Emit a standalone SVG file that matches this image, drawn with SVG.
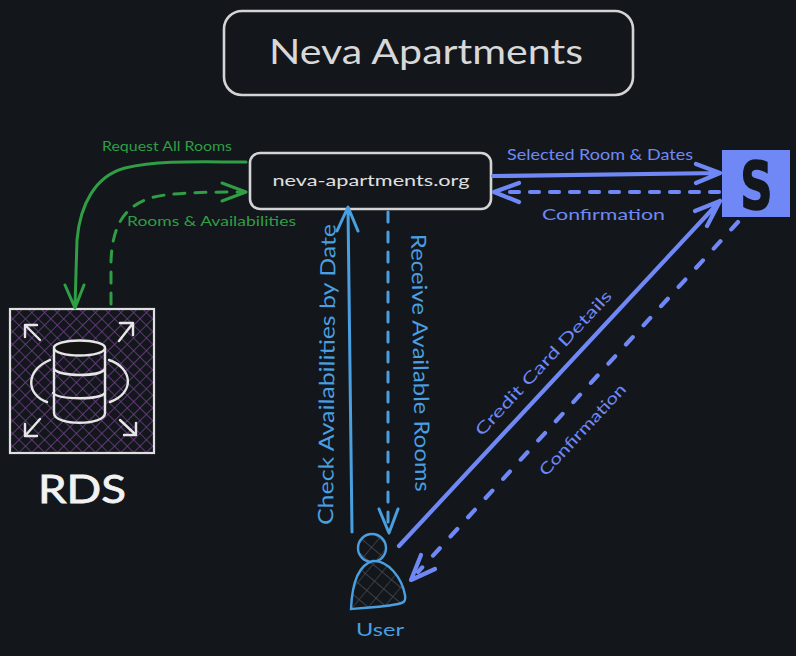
<svg xmlns="http://www.w3.org/2000/svg" width="796" height="656" viewBox="0 0 796 656">
<style>
text{font-family:"Lato","Noto Sans","Liberation Sans",sans-serif}
.c{fill:none;stroke-linecap:round;stroke-linejoin:round}
.g{stroke:#2f9e44;stroke-width:3}
.gt{fill:#2f9e44;font-size:14px}
.b{stroke:#4a9fe0;stroke-width:3}
.bt{fill:#4a9fe0;font-size:21px}
.v{stroke:#7088f5;stroke-width:4.2}
.vt{fill:#7088f5;font-size:16px}
.w{fill:none;stroke:#e6e6e6;stroke-width:2.4;stroke-linecap:round;stroke-linejoin:round}
</style>
<defs>
<pattern id="hp" width="9" height="9" patternUnits="userSpaceOnUse" patternTransform="rotate(45)">
<path d="M0 0H9M0 0V9" stroke="#6f3f88" stroke-width="1.6" fill="none"/>
</pattern>
<pattern id="hu" width="12" height="12" patternUnits="userSpaceOnUse" patternTransform="rotate(40)">
<path d="M0 0H12M0 0V12" stroke="#4a4d52" stroke-width="1.3" fill="none"/>
</pattern>
</defs>
<rect width="796" height="656" fill="#13171c"/>
<g id="title">
<rect x="224" y="11" width="409" height="84" rx="18" fill="none" stroke="#d4d4d4" stroke-width="2.6"/>
<text x="426" y="64" text-anchor="middle" font-size="34" fill="#d8d8d8" textLength="314" lengthAdjust="spacingAndGlyphs">Neva Apartments</text>
</g>
<g id="website">
<rect x="250" y="153" width="241" height="56" rx="10" fill="#13171c" stroke="#d4d4d4" stroke-width="2.6"/>
<text x="371" y="186" text-anchor="middle" font-size="16" fill="#e0e0e0" textLength="197" lengthAdjust="spacingAndGlyphs">neva-apartments.org</text>
</g>
<g id="stripe">
<rect x="722" y="150" width="68" height="67" fill="#7088f5"/>
<text transform="translate(756.500 209) scale(0.68 1)" text-anchor="middle" font-size="66" font-weight="700" fill="#13171c" stroke="#13171c" stroke-width="1.500" style="font-family:'DejaVu Sans',sans-serif">S</text>
</g>
<g id="rds">
<rect x="10" y="309" width="144" height="144" fill="#13171c"/>
<rect x="10" y="309" width="144" height="144" fill="url(#hp)" stroke="#e0e0e0" stroke-width="2.200"/>
<path d="M54 348C54 339 105 339 105 348V413C105 426 54 426 54 413Z" fill="none" stroke="#e6e6e6" stroke-width="2.4"/>
<ellipse cx="79.500" cy="348" rx="25.500" ry="7.500" fill="#131313" stroke="#e6e6e6" stroke-width="2.400"/>
<path class="w" d="M54 369C60 377 100 377 105 369M53 393C60 400 100 400 105 393M50 360C25 370 26 395 47 402M109 360C133 368 135 393 110 402"/>
<path class="w" d="M40 340L25 325M25 325V337M25 325H37M119 341L133 323M133 323H120M133 323V335M40 419L25 436M25 436H37M25 436V424M120 420L136 435M136 435H124M136 435V423"/>
<text x="82" y="503" text-anchor="middle" font-size="38" fill="#f2f2f2" stroke="#f2f2f2" stroke-width="0.800" textLength="88" lengthAdjust="spacingAndGlyphs">RDS</text>
</g>
<g id="user">
<circle cx="372" cy="548" r="14" fill="#13171c"/>
<circle cx="372" cy="548" r="14" fill="url(#hu)" stroke="#4a9fe0" stroke-width="2.400"/>
<path d="M351 609C352 585 358 565 373 561C388 560 402 578 405 595C406 601 404 603 398 604C382 607 366 608 351 609Z" fill="#13171c"/>
<path d="M351 609C352 585 358 565 373 561C388 560 402 578 405 595C406 601 404 603 398 604C382 607 366 608 351 609Z" fill="url(#hu)" stroke="#4a9fe0" stroke-width="2.400"/>
<text x="380" y="636" text-anchor="middle" font-size="18" fill="#4a9fe0" textLength="48" lengthAdjust="spacingAndGlyphs">User</text>
</g>
<g id="connectors">
<path class="c g" d="M246 162C200 162 160 160 125 168C95 176 80 205 77 240L75 306M65 285L75 308L84 285"/>
<path class="c g" stroke-dasharray="11 10" d="M111 304L111 262C112 225 125 200 165 195C190 192 220 192 244 192"/>
<path class="c g" d="M222 183L246 192L222 201"/>
<path class="c b" d="M352 532L348 208M337 231L348 207L358 231"/>
<path class="c b" stroke-dasharray="10 10" d="M388 212L388 530"/>
<path class="c b" d="M379 509L389 533L398 509"/>
<path class="c v" d="M493 176L720 173M696 164L720 173L696 183"/>
<path class="c v" stroke-dasharray="9 11" d="M719 192L500 192"/>
<path class="c v" d="M519 183L494 192L519 202"/>
<path class="c v" d="M399 546L720 201M695 211L720 201L707 226"/>
<path class="c v" stroke-dasharray="10 16" d="M738 222L418 572"/>
<path class="c v" d="M421 555L411 580L435 569"/>
</g>
<g id="labels">
<text class="gt" x="102" y="151" textLength="130" lengthAdjust="spacingAndGlyphs">Request All Rooms</text>
<text class="gt" x="127" y="226" font-size="15" textLength="169" lengthAdjust="spacingAndGlyphs">Rooms &amp; Availabilities</text>
<text class="vt" x="507" y="160" textLength="186" lengthAdjust="spacingAndGlyphs">Selected Room &amp; Dates</text>
<text class="vt" x="542" y="220" font-size="18" textLength="123" lengthAdjust="spacingAndGlyphs">Confirmation</text>
<text class="bt" transform="translate(333 525) rotate(-89.500)" textLength="301" lengthAdjust="spacingAndGlyphs">Check Availabilities by Date</text>
<text class="bt" transform="translate(411 234) rotate(89)" textLength="258" lengthAdjust="spacingAndGlyphs">Receive Available Rooms</text>
<text class="vt" transform="translate(482 437) rotate(-47)" font-size="18" textLength="192" lengthAdjust="spacingAndGlyphs">Credit Card Details</text>
<text class="vt" transform="translate(546 477) rotate(-47)" textLength="119" lengthAdjust="spacingAndGlyphs">Confirmation</text>
</g>
</svg>
